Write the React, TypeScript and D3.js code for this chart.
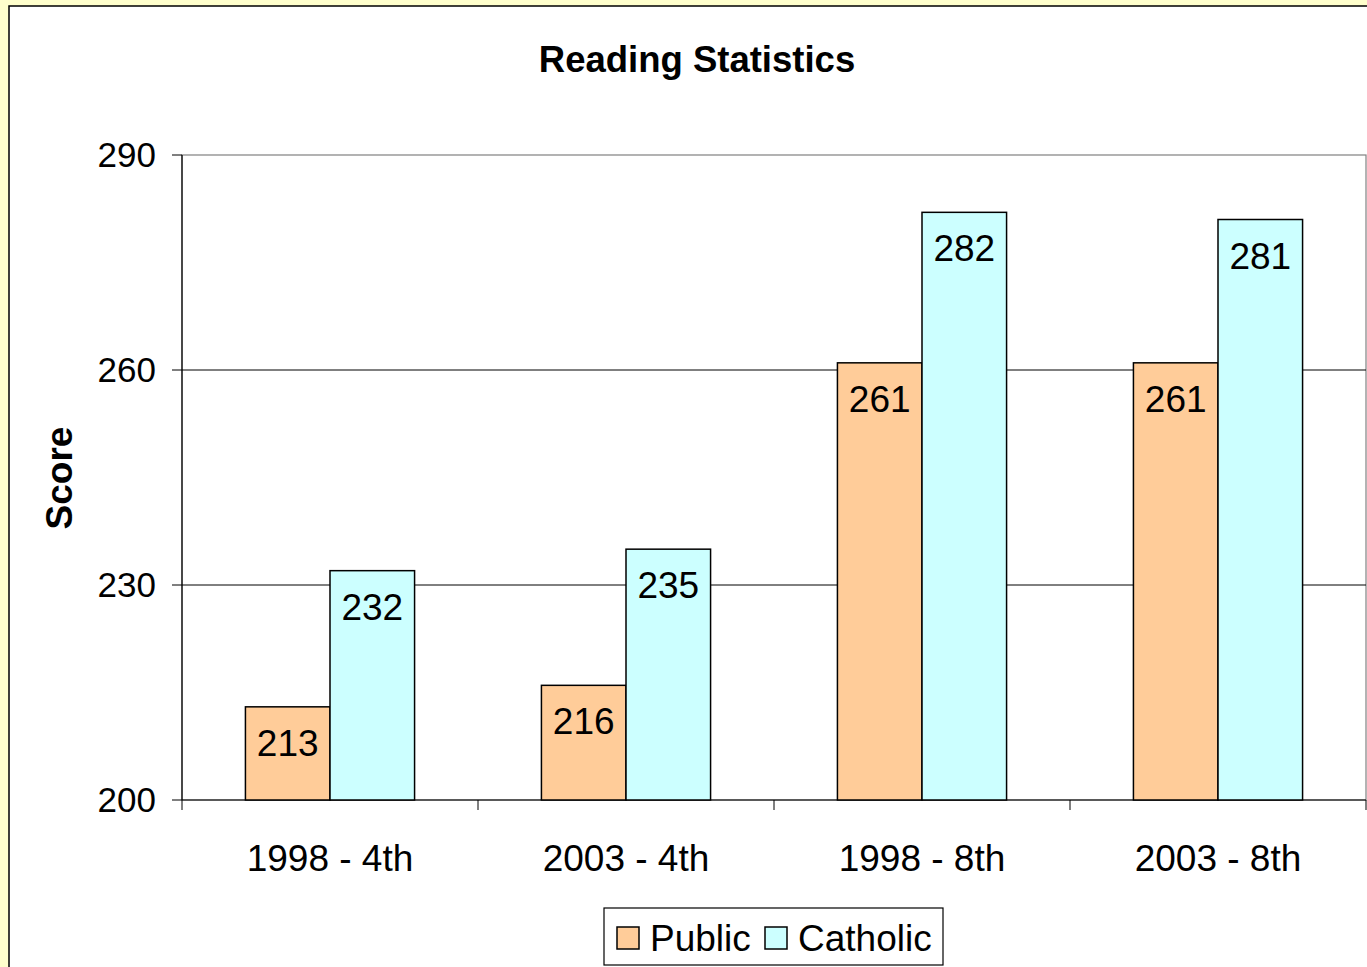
import React from "react";
import * as d3 from "d3";

const categories = ["1998 - 4th", "2003 - 4th", "1998 - 8th", "2003 - 8th"];
const seriesNames = ["Public", "Catholic"];
const publicValues = [213, 216, 261, 261];
const catholicValues = [232, 235, 282, 281];
const yTicks = [200, 230, 260, 290];
const seriesColors = ["#FFCC99", "#CCFFFF"];

const W = 1367;
const H = 967;
const plot = { left: 182, right: 1366, top: 155, bottom: 800 };
const font = "Liberation Sans, Arial, sans-serif";

export default function App() {
  const x = d3.scaleBand<string>().domain(categories).range([plot.left, plot.right]);
  const y = d3.scaleLinear().domain([200, 290]).range([plot.bottom, plot.top]);
  const bw = x.bandwidth() / 3.5;
  const series = [publicValues, catholicValues];

  return (
    <svg
      width={W}
      height={H}
      style={{ position: "absolute", left: 0, top: 0, display: "block" }}
      fontFamily={font}
    >
      <rect x={0} y={0} width={W} height={H} fill="#FFFFCC" />
      <rect x={9} y={6} width={W + 10} height={H + 10} fill="#FFFFFF" stroke="#000" strokeWidth={1.5} />
      <text x={697} y={72} textAnchor="middle" fontSize={36.5} fontWeight="bold">
        Reading Statistics
      </text>
      <text
        transform={`translate(72,478) rotate(-90)`}
        textAnchor="middle"
        fontSize={37}
        fontWeight="bold"
      >
        Score
      </text>
      <rect
        x={plot.left}
        y={plot.top}
        width={plot.right - plot.left}
        height={plot.bottom - plot.top}
        fill="none"
        stroke="#808080"
        strokeWidth={1.2}
      />
      {yTicks.map((t) => (
        <g key={t}>
          {t !== 200 && t !== 290 && (
            <line x1={plot.left} x2={plot.right} y1={y(t)} y2={y(t)} stroke="#000" strokeWidth={1} />
          )}
          <line x1={plot.left - 10} x2={plot.left} y1={y(t)} y2={y(t)} stroke="#000" strokeWidth={1} />
          <text x={156} y={y(t) + 12} textAnchor="end" fontSize={35}>
            {t}
          </text>
        </g>
      ))}
      <line x1={plot.left} x2={plot.left} y1={plot.top} y2={plot.bottom} stroke="#000" strokeWidth={1.2} />
      <line x1={plot.left} x2={plot.right} y1={plot.bottom} y2={plot.bottom} stroke="#000" strokeWidth={1.2} />
      {categories.map((c, i) => (
        <line
          key={"t" + i}
          x1={x(c)!}
          x2={x(c)!}
          y1={plot.bottom}
          y2={plot.bottom + 10}
          stroke="#000"
          strokeWidth={1}
        />
      ))}
      <line x1={plot.right} x2={plot.right} y1={plot.bottom} y2={plot.bottom + 10} stroke="#000" />
      {categories.map((c) => (
        <text key={"c" + c} x={x(c)! + x.bandwidth() / 2} y={871} textAnchor="middle" fontSize={37}>
          {c}
        </text>
      ))}
      {series.map((vals, si) =>
        vals.map((v, i) => {
          const bx = x(categories[i])! + bw * 0.75 + si * bw;
          return (
            <g key={si + "-" + i}>
              <rect
                x={bx}
                y={y(v)}
                width={bw}
                height={plot.bottom - y(v)}
                fill={seriesColors[si]}
                stroke="#000"
                strokeWidth={1.5}
              />
              <text x={bx + bw / 2} y={y(v) + 49} textAnchor="middle" fontSize={37}>
                {v}
              </text>
            </g>
          );
        })
      )}
      <rect x={604} y={908} width={339} height={57} fill="#fff" stroke="#000" strokeWidth={1.2} />
      {seriesNames.map((n, i) => {
        const lx = i === 0 ? 617 : 765;
        return (
          <g key={n}>
            <rect x={lx} y={927} width={22} height={22} fill={seriesColors[i]} stroke="#000" strokeWidth={1.5} />
            <text x={lx + 33} y={951} fontSize={37}>
              {n}
            </text>
          </g>
        );
      })}
    </svg>
  );
}
